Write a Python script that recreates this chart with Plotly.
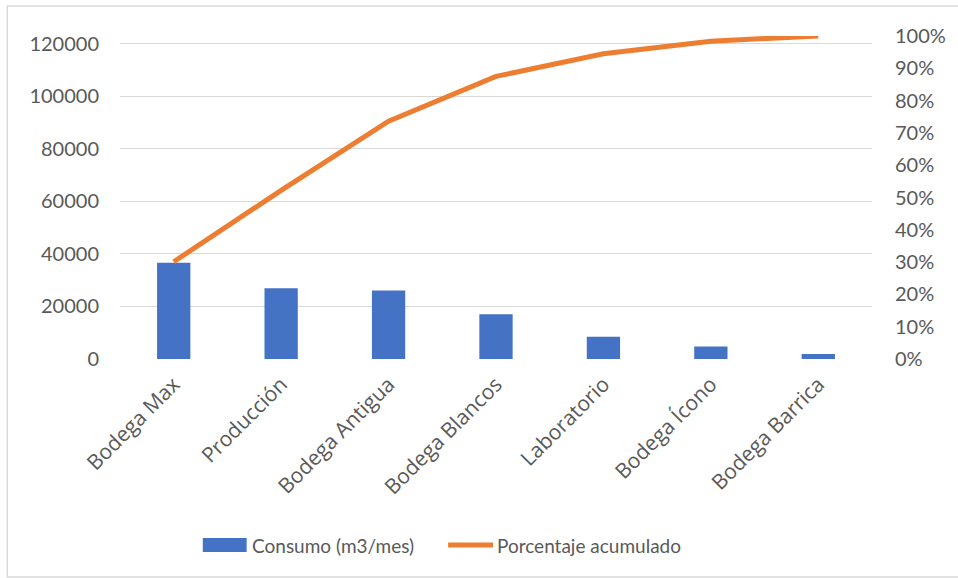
import plotly.graph_objects as go

categories = ["Bodega Max", "Producción", "Bodega Antigua", "Bodega Blancos",
              "Laboratorio", "Bodega Ícono", "Bodega Barrica"]
consumo = [36700, 26900, 26100, 17000, 8500, 4800, 1900]
porcentaje = [0.301, 0.522, 0.736, 0.875, 0.945, 0.984, 1.0]
left_ticks = [0, 20000, 40000, 60000, 80000, 100000, 120000]
right_ticks = [0, 0.1, 0.2, 0.3, 0.4, 0.5, 0.6, 0.7, 0.8, 0.9, 1.0]
right_labels = ["0%", "10%", "20%", "30%", "40%", "50%", "60%", "70%", "80%", "90%", "100%"]

W, H = 958, 578
L, R, T, B = 120, 84, 36, 219
pw, ph = W - L - R, H - T - B

def px(x):
    return (x - L) / pw

def py(y):
    return (H - B - y) / ph

BLUE = "#4472C4"
ORANGE = "#ED7D31"
TXT = "#595959"
GRID = "#D9D9D9"

fig = go.Figure()
fig.add_trace(go.Bar(x=categories, y=consumo, name="Consumo (m3/mes)",
                     marker=dict(color=BLUE, line=dict(width=0)), width=0.31,
                     showlegend=False))
fig.add_trace(go.Scatter(x=categories, y=porcentaje, name="Porcentaje acumulado",
                         mode="lines", yaxis="y2",
                         line=dict(color=ORANGE, width=5), showlegend=False))

fig.update_layout(
    width=W, height=H,
    margin=dict(l=L, r=R, t=T, b=B),
    paper_bgcolor="white", plot_bgcolor="white",
    bargap=0.69,
    xaxis=dict(tickangle=-45, tickfont=dict(family="Open Sans", size=21, color=TXT),
               showgrid=False, showline=False, ticks="", zeroline=False,
               ticklabelstandoff=8),
    yaxis=dict(range=[0, 123000], tickvals=left_ticks, ticktext=[str(v) for v in left_ticks],
               tickfont=dict(family="Lato", size=20, color=TXT),
               showgrid=True, gridcolor=GRID, gridwidth=1.3, zeroline=False,
               showline=False, ticklabelstandoff=20),
    yaxis2=dict(range=[0, 1.0], overlaying="y", side="right", tickvals=right_ticks,
                ticktext=right_labels, tickfont=dict(family="Lato", size=20, color=TXT),
                showgrid=False, zeroline=False, showline=False, ticklabelstandoff=22),
    font=dict(family="Lato", color=TXT),
)

# outer chart border
fig.add_shape(type="rect", xref="paper", yref="paper",
              x0=px(7), x1=px(962), y0=py(577), y1=py(6),
              line=dict(color=GRID, width=1.5), fillcolor="rgba(0,0,0,0)", layer="below")

# custom legend
ly = 545
fig.add_shape(type="rect", xref="paper", yref="paper",
              x0=px(203), x1=px(247), y0=py(552), y1=py(538),
              fillcolor=BLUE, line=dict(width=0))
fig.add_annotation(xref="paper", yref="paper", x=px(250), y=py(ly), xanchor="left",
                   yanchor="middle", text="Consumo (m3/mes)", showarrow=False,
                   font=dict(family="Lato", size=19, color=TXT))
fig.add_shape(type="line", xref="paper", yref="paper",
              x0=px(449), x1=px(494), y0=py(ly), y1=py(ly),
              line=dict(color=ORANGE, width=5))
fig.add_annotation(xref="paper", yref="paper", x=px(496), y=py(ly), xanchor="left",
                   yanchor="middle", text="Porcentaje acumulado", showarrow=False,
                   font=dict(family="Lato", size=19, color=TXT))

fig.write_html("out.html")
